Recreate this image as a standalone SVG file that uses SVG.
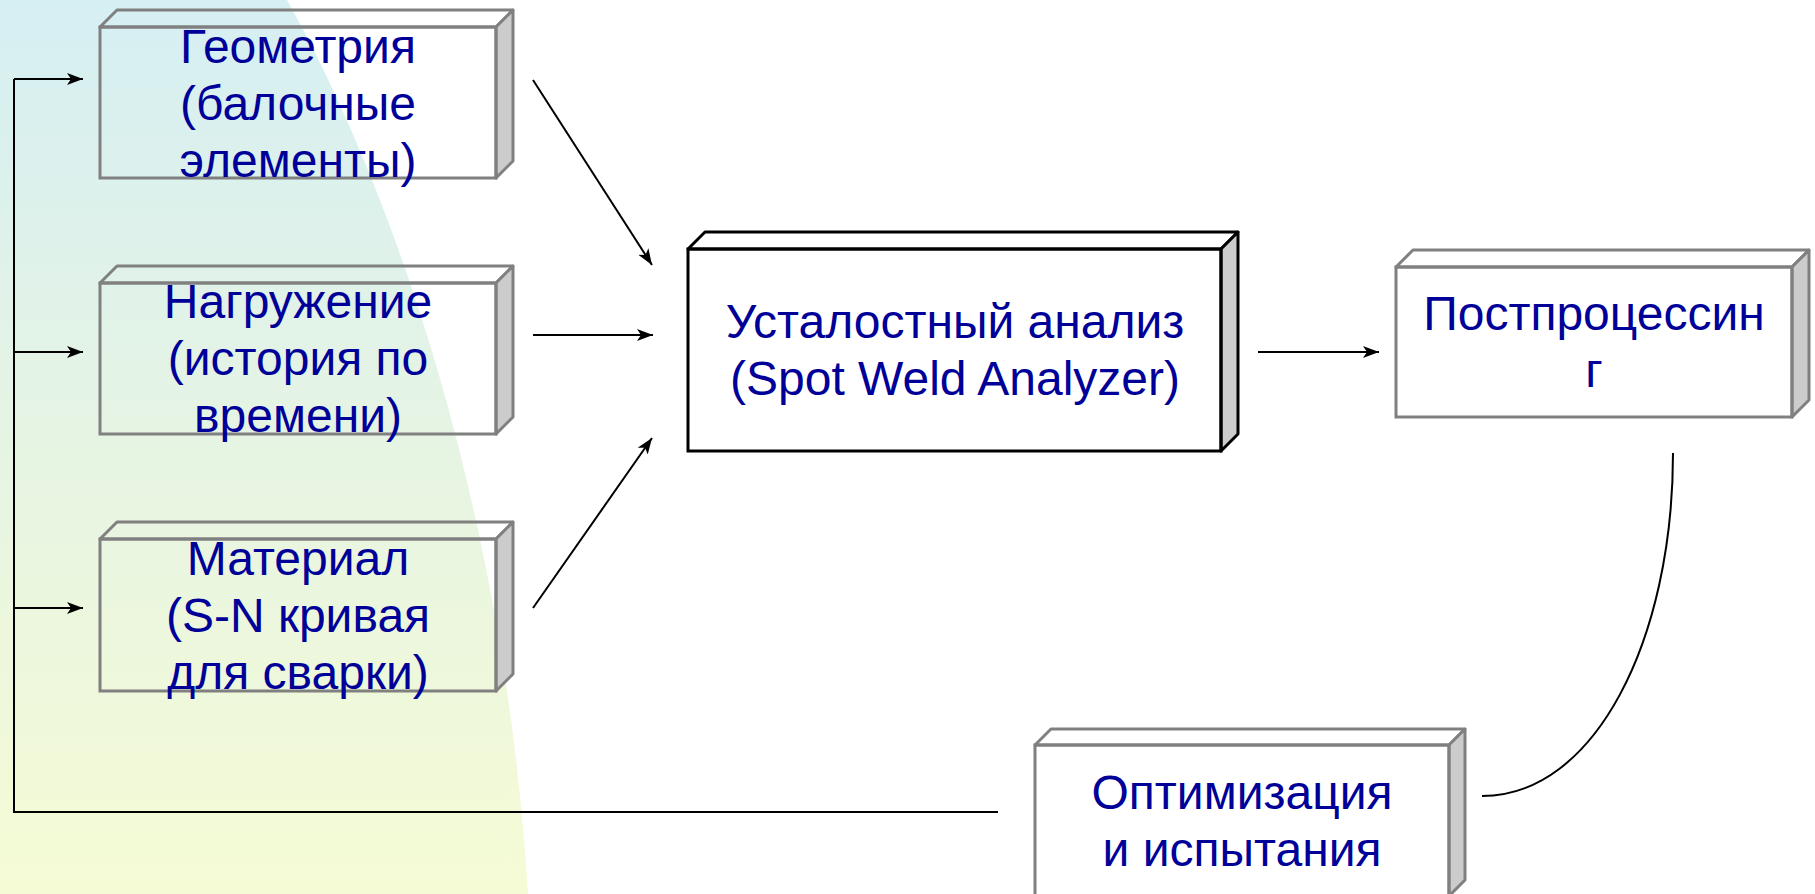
<svg xmlns="http://www.w3.org/2000/svg" width="1815" height="894" viewBox="0 0 1815 894">
<defs>
<linearGradient id="bg" x1="0" y1="0" x2="0" y2="1">
<stop offset="0" stop-color="#d6eff3"/>
<stop offset="0.5" stop-color="#e6f4e3"/>
<stop offset="1" stop-color="#f5fbd5"/>
</linearGradient>
<marker id="ah" markerUnits="userSpaceOnUse" markerWidth="18" markerHeight="14" refX="16" refY="6" orient="auto">
<path d="M0,0 L16,6 L0,12 L4,6 Z" fill="#000"/>
</marker>
<style>
.front{fill:none;stroke:#808080;stroke-width:3}
.top{fill:none;stroke:#808080;stroke-width:3;stroke-linejoin:round}
.side{fill:#cccccc;stroke:#808080;stroke-width:3;stroke-linejoin:round}
.dark .front,.dark .top,.dark .side{stroke:#000}
.lbl{font-family:"Liberation Sans",Arial,sans-serif;font-size:48px;fill:#000099;text-anchor:middle}
.con{fill:none;stroke:#000;stroke-width:2}
.arr{marker-end:url(#ah)}
</style>
</defs>
<rect width="1815" height="894" fill="#fff"/>
<path d="M0,0 L287,0 C385,175 503,490 528,894 L0,894 Z" fill="url(#bg)"/>

<g id="connectors">
<path class="con" d="M998,812 L14,812 L14,79"/>
<line class="con arr" x1="14" y1="79" x2="83" y2="79"/>
<line class="con arr" x1="14" y1="352" x2="83" y2="352"/>
<line class="con arr" x1="14" y1="608" x2="83" y2="608"/>
<line class="con arr" x1="533" y1="80" x2="652" y2="265"/>
<line class="con arr" x1="533" y1="335" x2="653" y2="335"/>
<line class="con arr" x1="533" y1="608" x2="652" y2="438"/>
<line class="con arr" x1="1258" y1="352" x2="1379" y2="352"/>
<path class="con" d="M1673,453 C1673,640 1595,796 1482,796"/>
</g>

<g id="geometry">
<polygon class="top" points="100,27 117,10 513,10 496,27"/>
<polygon class="side" points="496,27 513,10 513,161 496,178"/>
<rect class="front" x="100" y="27" width="396" height="151"/>
<text class="lbl" x="298" y="63">Геометрия</text>
<text class="lbl" x="298" y="120">(балочные</text>
<text class="lbl" x="298" y="177">элементы)</text>
</g>

<g id="loading">
<polygon class="top" points="100,283 117,266 513,266 496,283"/>
<polygon class="side" points="496,283 513,266 513,417 496,434"/>
<rect class="front" x="100" y="283" width="396" height="151"/>
<text class="lbl" x="298" y="318">Нагружение</text>
<text class="lbl" x="298" y="375">(история по</text>
<text class="lbl" x="298" y="432">времени)</text>
</g>

<g id="material">
<polygon class="top" points="100,539 117,522 513,522 496,539"/>
<polygon class="side" points="496,539 513,522 513,674 496,691"/>
<rect class="front" x="100" y="539" width="396" height="152"/>
<text class="lbl" x="298" y="575">Материал</text>
<text class="lbl" x="298" y="632">(S-N кривая</text>
<text class="lbl" x="298" y="689">для сварки)</text>
</g>

<g id="analysis" class="dark">
<polygon class="top" points="688,249 705,232 1238,232 1221,249"/>
<polygon class="side" points="1221,249 1238,232 1238,434 1221,451"/>
<rect class="front" x="688" y="249" width="533" height="202"/>
<text class="lbl" x="955" y="338">Усталостный анализ</text>
<text class="lbl" x="955" y="395">(Spot Weld Analyzer)</text>
</g>

<g id="postprocessing">
<polygon class="top" points="1396,267 1413,250 1809,250 1792,267"/>
<polygon class="side" points="1792,267 1809,250 1809,400 1792,417"/>
<rect class="front" x="1396" y="267" width="396" height="150"/>
<text class="lbl" x="1594" y="330">Постпроцессин</text>
<text class="lbl" x="1594" y="387">г</text>
</g>

<g id="optimization">
<polygon class="top" points="1035,745 1051,729 1465,729 1449,745"/>
<polygon class="side" points="1449,745 1465,729 1465,880 1449,896"/>
<rect class="front" x="1035" y="745" width="414" height="151"/>
<text class="lbl" x="1242" y="809">Оптимизация</text>
<text class="lbl" x="1242" y="866">и испытания</text>
</g>
</svg>
